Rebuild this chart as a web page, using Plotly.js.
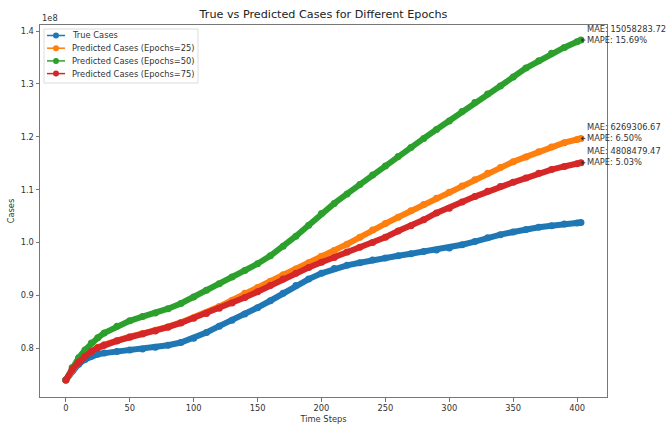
<!DOCTYPE html>
<html>
<head>
<meta charset="utf-8">
<script src="https://cdn.plot.ly/plotly-3.0.1.min.js"></script>
<style>html,body{margin:0;padding:0;background:#fff;}#chart{width:666px;height:426px;}</style>
</head>
<body>
<div id="chart"></div>
<script>
// Time steps (x) and case counts in units of 1e8
const timeSteps = [0,5,10,15,20,25,30,40,50,60,70,80,90,100,110,120,130,140,150,160,170,180,190,200,210,220,230,240,250,260,270,280,290,300,310,320,330,340,350,360,370,380,390,400,403];

const trueCases = [0.740,0.757,0.770,0.779,0.785,0.789,0.791,0.794,0.797,0.799,0.802,0.806,0.811,0.819,0.830,0.842,0.853,0.865,0.877,0.890,0.904,0.919,0.931,0.942,0.951,0.957,0.962,0.967,0.971,0.975,0.979,0.983,0.986,0.990,0.996,1.002,1.009,1.015,1.020,1.025,1.029,1.032,1.035,1.037,1.038];

const predEpochs25 = [0.740,0.760,0.775,0.786,0.795,0.802,0.807,0.815,0.822,0.828,0.834,0.841,0.849,0.858,0.868,0.879,0.891,0.904,0.915,0.927,0.939,0.950,0.962,0.974,0.985,0.997,1.010,1.024,1.036,1.048,1.060,1.072,1.084,1.095,1.107,1.119,1.131,1.142,1.153,1.162,1.172,1.181,1.189,1.195,1.197];

const predEpochs50 = [0.740,0.764,0.782,0.797,0.810,0.820,0.829,0.842,0.852,0.860,0.867,0.875,0.885,0.897,0.910,0.922,0.935,0.947,0.960,0.975,0.993,1.012,1.033,1.055,1.074,1.092,1.110,1.128,1.145,1.163,1.180,1.197,1.214,1.230,1.248,1.265,1.281,1.296,1.313,1.330,1.344,1.358,1.369,1.380,1.383];

const predEpochs75 = [0.740,0.760,0.774,0.785,0.794,0.801,0.806,0.814,0.821,0.827,0.833,0.840,0.848,0.857,0.866,0.876,0.886,0.896,0.907,0.919,0.931,0.942,0.953,0.963,0.972,0.982,0.991,1.000,1.010,1.022,1.032,1.043,1.056,1.065,1.077,1.087,1.097,1.106,1.114,1.122,1.131,1.138,1.144,1.149,1.151];

const seriesNames = ["True Cases","Predicted Cases (Epochs=25)","Predicted Cases (Epochs=50)","Predicted Cases (Epochs=75)"];
const seriesColors = ["#1f77b4","#ff7f0e","#2ca02c","#d62728"];
const seriesData = [trueCases, predEpochs25, predEpochs50, predEpochs75];

const maeValues = ["15058283.72","6269306.67","4808479.47"];
const mapeValues = ["15.69%","6.50%","5.03%"];
const metricSeries = [predEpochs50, predEpochs25, predEpochs75];

const xTicks = [0,50,100,150,200,250,300,350,400];
const yTicks = [0.8,0.9,1.0,1.1,1.2,1.3,1.4];

const FONT = "DejaVu Sans, sans-serif";
const FS = 8.3;
const W = 666, H = 426;
const M = {l: 40, r: 59, t: 25, b: 29};
const PW = W - M.l - M.r, PH = H - M.t - M.b;
const px2x = p => (p - M.l) / PW;
const px2y = p => (H - M.b - p) / PH;

const traces = [];
seriesData.forEach((ys, i) => {
  traces.push({
    x: timeSteps, y: ys, type: "scatter", mode: "lines+markers",
    line: {color: seriesColors[i], width: 6},
    marker: {color: seriesColors[i], size: 7},
    showlegend: false, hoverinfo: "skip"
  });
});

const lastIdx = timeSteps.length - 1;
const annotations = [];
const shapes = [];
metricSeries.forEach((ys, i) => {
  annotations.push({
    x: timeSteps[lastIdx], y: ys[lastIdx], xref: "x", yref: "y",
    text: "", showarrow: true, ax: 6, ay: 0,
    arrowhead: 1, arrowsize: 1, arrowwidth: 0.8, arrowcolor: "#333"
  });
  annotations.push({
    x: timeSteps[lastIdx], y: ys[lastIdx], xref: "x", yref: "y",
    text: "MAE: " + maeValues[i] + "<br>MAPE: " + mapeValues[i],
    showarrow: false, xanchor: "left", yanchor: "middle", align: "left",
    xshift: 4, yshift: 6,
    font: {family: FONT, size: FS, color: "#333"}
  });
});
annotations.push({
  xref: "paper", yref: "paper", x: 0, y: 1, xanchor: "left", yanchor: "bottom",
  text: "1e8", showarrow: false, yshift: 0,
  font: {family: FONT, size: FS, color: "#333"}
});

// Legend (drawn with shapes + annotations to match compact matplotlib spacing)
shapes.push({
  type: "rect", xref: "paper", yref: "paper",
  x0: px2x(44), x1: px2x(198), y0: px2y(83), y1: px2y(29),
  line: {color: "#dcdcdc", width: 1}, fillcolor: "rgba(255,255,255,0.8)", layer: "above"
});
seriesNames.forEach((name, i) => {
  const yc = px2y(35.5 + i * 12.7);
  shapes.push({
    type: "line", xref: "paper", yref: "paper",
    x0: px2x(47), x1: px2x(65), y0: yc, y1: yc,
    line: {color: seriesColors[i], width: 1.5}, layer: "above"
  });
  shapes.push({
    type: "circle", xref: "paper", yref: "paper",
    xsizemode: "pixel", ysizemode: "pixel", xanchor: px2x(56), yanchor: yc,
    x0: -3, x1: 3, y0: -3, y1: 3,
    line: {color: seriesColors[i], width: 0}, fillcolor: seriesColors[i], layer: "above"
  });
  annotations.push({
    xref: "paper", yref: "paper", x: px2x(70), y: yc, xanchor: "left", yanchor: "middle",
    text: name, showarrow: false,
    font: {family: FONT, size: FS, color: "#333"}
  });
});

const layout = {
  width: W, height: H,
  margin: M,
  paper_bgcolor: "#fff", plot_bgcolor: "#fff",
  font: {family: FONT, size: FS, color: "#333"},
  title: {text: "True vs Predicted Cases for Different Epochs", font: {family: FONT, size: 11.2, color: "#222"}, x: 0.5, xref: "paper", y: 0.967, yanchor: "middle"},
  xaxis: {
    range: [-20.2, 423.4], tickvals: xTicks, ticktext: xTicks.map(String),
    showgrid: false, zeroline: false, showline: true, mirror: true,
    linecolor: "#777", linewidth: 1, ticks: "outside", ticklen: 3.5, tickcolor: "#777",
    tickfont: {family: FONT, size: FS, color: "#333"},
    title: {text: "Time Steps", font: {family: FONT, size: FS, color: "#333"}, standoff: 3}
  },
  yaxis: {
    range: [0.708, 1.4115], tickvals: yTicks, ticktext: yTicks.map(v => v.toFixed(1)),
    showgrid: false, zeroline: false, showline: true, mirror: true,
    linecolor: "#777", linewidth: 1, ticks: "outside", ticklen: 3.5, tickcolor: "#777",
    tickfont: {family: FONT, size: FS, color: "#333"},
    title: {text: "Cases", font: {family: FONT, size: FS, color: "#333"}, standoff: 4}
  },
  annotations: annotations,
  shapes: shapes,
  showlegend: false
};

Plotly.newPlot("chart", traces, layout, {displayModeBar: false, staticPlot: true});
</script>
</body>
</html>
